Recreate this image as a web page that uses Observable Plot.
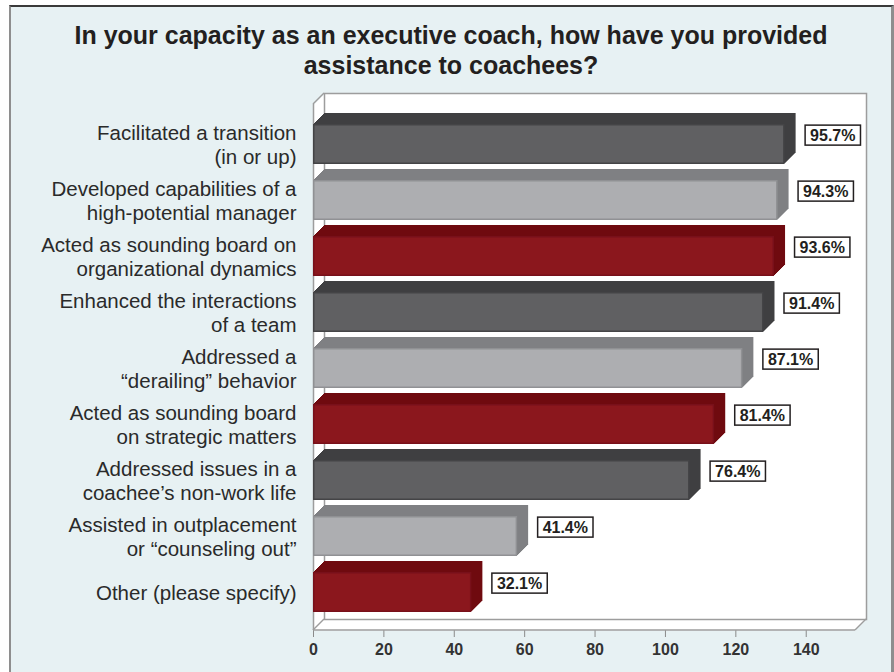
<!DOCTYPE html>
<html><head><meta charset="utf-8">
<script src="https://cdn.jsdelivr.net/npm/d3@7"></script>
<script src="https://cdn.jsdelivr.net/npm/@observablehq/plot@0.6"></script>
<style>
body{margin:0;background:#fff;}
#panel{position:relative;width:894px;height:672px;overflow:hidden;}
#bg{position:absolute;left:9px;top:5px;width:880px;height:700px;background:#e7f1f3;border-left:2px solid #8e8e8e;border-top:2px solid #3a3a3a;border-right:3px solid #8e8e8e;}
#title{position:absolute;left:4px;top:20px;width:894px;text-align:center;font:bold 25px "Liberation Sans",Arial,sans-serif;line-height:30px;color:#231f20;}
#chart{position:absolute;left:0;top:80px;}
</style></head>
<body>
<div id="panel">
  <div id="bg"></div>
  <div id="title">In your capacity as an executive coach, how have you provided<br>assistance to coachees?</div>
  <div id="chart"></div>
</div>
<script>
const categories = [
  "Facilitated a transition\n(in or up)",
  "Developed capabilities of a\nhigh-potential manager",
  "Acted as sounding board on\norganizational dynamics",
  "Enhanced the interactions\nof a team",
  "Addressed a\n\u201cderailing\u201d behavior",
  "Acted as sounding board\non strategic matters",
  "Addressed issues in a\ncoachee\u2019s non-work life",
  "Assisted in outplacement\nor \u201ccounseling out\u201d",
  "Other (please specify)"
];
const counts = [134, 132, 131, 128, 122, 114, 107, 58, 45];
const pctLabels = ["95.7%", "94.3%", "93.6%", "91.4%", "87.1%", "81.4%", "76.4%", "41.4%", "32.1%"];
const xTicks = [0, 20, 40, 60, 80, 100, 120, 140];

const frontPalette = ["#606062", "#adaeb1", "#8b171d"];
const sidePalette = ["#3f3f41", "#7f8083", "#6f0a0f"];
const edgePalette = ["#444446", "#909194", "#78101a"];

const data = categories.map((cat, i) => ({cat, count: counts[i], pct: pctLabels[i], kind: i % 3}));

const W = 894, H = 592, mL = 313, mR = 39, mT = 24, mB = 42;
const depth = 11;

const wallFill = d3.range(0, depth + 1).map(k => Plot.frame({fill: "white", stroke: "none", dx: k, dy: -k}));
const sides = d3.range(1, depth + 1).map(k => Plot.barX(data, {
  y: "cat", x1: 0, x2: "count", fill: d => sidePalette[d.kind], dx: k, dy: -k
}));

const plot = Plot.plot({
  width: W, height: H,
  marginLeft: mL, marginRight: mR, marginTop: mT, marginBottom: mB,
  style: {background: "transparent", overflow: "visible", fontFamily: "Liberation Sans, Arial, sans-serif"},
  x: {domain: [0, 154]},
  y: {domain: categories, range: [42, 533], paddingInner: 0.29, paddingOuter: 0},
  color: {type: "identity"},
  marks: [
    ...wallFill,
    Plot.frame({stroke: "#9d9d9d", strokeWidth: 1.5, dx: depth, dy: -depth}),
    Plot.ruleX([0], {stroke: "#9d9d9d", strokeWidth: 1.5}),
    ...sides,
    Plot.barX(data, {y: "cat", x1: 0, x2: "count", fill: d => frontPalette[d.kind], stroke: d => edgePalette[d.kind], strokeWidth: 1.5, inset: 0.75}),
    Plot.text(data, {x: "count", y: "cat", text: "pct", dx: 25, dy: -9, textAnchor: "start", fontWeight: "bold", fontSize: 16, fill: "#231f20"}),
    Plot.axisX({ticks: xTicks, tickSize: 7, tickPadding: 6, fontWeight: "bold", fontSize: 16, stroke: "#8a8a8a", fill: "#333", label: null}),
    Plot.axisY({tickSize: 0, tickPadding: 17, fontSize: 20.5, lineHeight: 1.16, fill: "#2a2a2a", label: null})
  ]
});
document.getElementById("chart").appendChild(plot);

// box behind value labels
const svg = d3.select(plot);
svg.selectAll('g[aria-label="text"] text').each(function() {
  const b = this.getBBox();
  const r = document.createElementNS("http://www.w3.org/2000/svg", "rect");
  r.setAttribute("x", b.x - 5); r.setAttribute("y", b.y - 1.5);
  r.setAttribute("width", b.width + 10); r.setAttribute("height", b.height + 3);
  r.setAttribute("fill", "white"); r.setAttribute("stroke", "#231f20"); r.setAttribute("stroke-width", 1.5);
  const t = this.getAttribute("transform"); if (t) r.setAttribute("transform", t);
  this.parentNode.insertBefore(r, this);
});

// floor front edge and depth diagonals of the plot box
const xs = plot.scale("x");
const xl = xs.range[0], xr = xs.range[1], yt = mT, yb = H - mB;
const g = svg.append("g").attr("stroke", "#9d9d9d").attr("stroke-width", 1.5).attr("fill", "none");
g.append("line").attr("x1", xl).attr("x2", xr).attr("y1", yb).attr("y2", yb);
[[xl, yt], [xl, yb], [xr, yb]].forEach(([x, y]) =>
  g.append("line").attr("x1", x).attr("y1", y).attr("x2", x + depth).attr("y2", y - depth));
</script>
</body></html>
